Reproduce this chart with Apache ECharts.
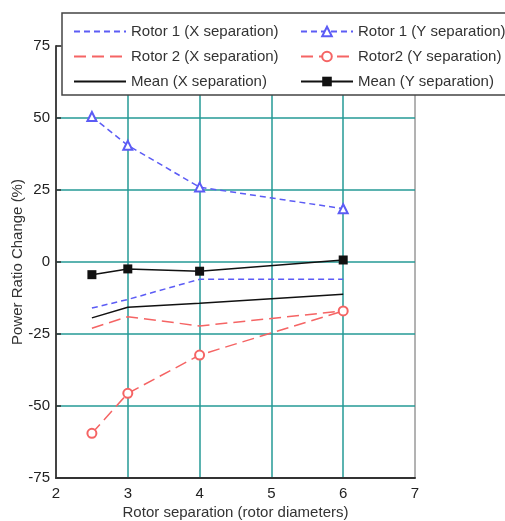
<!DOCTYPE html>
<html><head><meta charset="utf-8">
<script src="https://cdn.jsdelivr.net/npm/echarts@6/dist/echarts.min.js"></script>
<style>html,body{margin:0;padding:0;background:#fff}#c{width:505px;height:521px}</style>
</head><body><div id="c"></div>
<script>
const xCats = [2.5, 3, 4, 6];
const rotor1X = [-16, -13, -6, -6];
const rotor1Y = [50.5, 40.5, 26, 18.5];
const rotor2X = [-23, -19, -22.2, -17];
const rotor2Y = [-59.5, -45.6, -32.3, -17];
const meanX = [-19.4, -15.7, -14.3, -11.2];
const meanY = [-4.4, -2.4, -3.2, 0.7];
const names = ['Rotor 1 (X separation)','Rotor 2 (X separation)','Mean (X separation)',
               'Rotor 1 (Y separation)','Rotor2 (Y separation)','Mean (Y separation)'];
const pairs = a => xCats.map((x,i)=>[x,a[i]]);
const BLUE='#5c5cf5', RED='#f56464', BLACK='#111';
const FONT='Liberation Sans, Arial';
const chart = echarts.init(document.getElementById('c'));
const legendText = {fontSize:15, fontFamily:FONT, color:'#333'};
const noSym = n => ({name:n, itemStyle:{opacity:0}});
chart.setOption({
  animation:false,
  grid:{left:56,right:90,top:46,bottom:43,show:true,borderColor:'#666',borderWidth:1,
        outerBoundsMode:'none',containLabel:false},
  xAxis:{type:'value',min:2,max:7,interval:1,
    axisLine:{onZero:false,lineStyle:{color:'#333',width:2}},
    axisTick:{show:false},
    axisLabel:{fontSize:15,color:'#222',fontFamily:FONT,margin:8},
    splitLine:{show:true,showMinLine:false,showMaxLine:false,lineStyle:{color:'#249a96',width:1.5}},
    name:'Rotor separation (rotor diameters)',nameLocation:'middle',nameGap:27,nameMoveOverlap:false,
    nameTextStyle:{fontSize:15,color:'#333',fontFamily:FONT}},
  yAxis:{type:'value',min:-75,max:75,interval:25,
    axisLine:{show:true,onZero:false,lineStyle:{color:'#444',width:2}},
    axisTick:{show:true,inside:true,length:5,lineStyle:{color:'#333',width:1.5}},
    axisLabel:{fontSize:15,color:'#222',fontFamily:FONT,margin:6},
    splitLine:{show:true,showMinLine:false,showMaxLine:false,lineStyle:{color:'#249a96',width:1.5}},
    name:'Power Ratio Change (%)',nameLocation:'middle',nameGap:31,nameMoveOverlap:false,
    nameTextStyle:{fontSize:15,color:'#333',fontFamily:FONT}},
  graphic:[{type:'rect',z:10,shape:{x:62,y:13,width:460,height:82},
    style:{fill:'#fff',stroke:'#444',lineWidth:1.5}}],
  legend:[
    {data:[noSym(names[0]),noSym(names[1]),noSym(names[2])],orient:'vertical',left:68,top:19,z:20,
     itemWidth:52,itemHeight:12,itemGap:10,textStyle:legendText},
    {data:names.slice(3),orient:'vertical',left:295,top:19,z:20,itemWidth:52,itemHeight:12,itemGap:10,
     textStyle:legendText}
  ],
  series:[
    {name:names[0],type:'line',data:pairs(rotor1X),symbol:'none',
     lineStyle:{color:BLUE,width:1.5,type:[6,4]},itemStyle:{color:BLUE}},
    {name:names[1],type:'line',data:pairs(rotor2X),symbol:'none',
     lineStyle:{color:RED,width:1.5,type:[12,6]},itemStyle:{color:RED}},
    {name:names[2],type:'line',data:pairs(meanX),symbol:'none',
     lineStyle:{color:BLACK,width:1.5},itemStyle:{color:BLACK}},
    {name:names[3],type:'line',data:pairs(rotor1Y),symbol:'emptyTriangle',symbolSize:9,
     lineStyle:{color:BLUE,width:1.5,type:[6,4]},itemStyle:{color:BLUE,borderColor:BLUE}},
    {name:names[4],type:'line',data:pairs(rotor2Y),symbol:'emptyCircle',symbolSize:9,
     lineStyle:{color:RED,width:1.5,type:[12,6]},itemStyle:{color:RED,borderColor:RED}},
    {name:names[5],type:'line',data:pairs(meanY),symbol:'rect',symbolSize:9,
     lineStyle:{color:BLACK,width:1.5},itemStyle:{color:BLACK}}
  ]
});
</script></body></html>
